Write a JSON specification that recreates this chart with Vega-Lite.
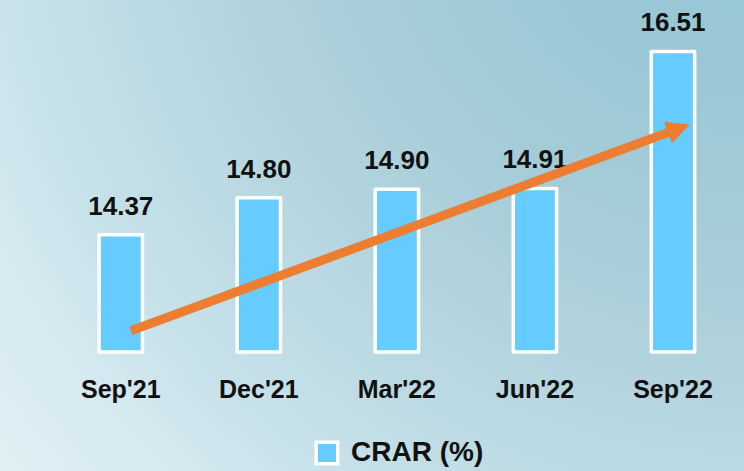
{
  "$schema": "https://vega.github.io/schema/vega-lite/v6.json",
  "width": 744,
  "height": 471,
  "autosize": {"type": "none"},
  "padding": 0,
  "background": "#C5E0E8",
  "view": {
    "stroke": null,
    "fill": {
      "gradient": "radial",
      "x1": 1, "y1": 0, "r1": 0,
      "x2": 1, "y2": 0, "r2": 1.414,
      "stops": [
        {"offset": 0, "color": "#8FC3D2"},
        {"offset": 0.354, "color": "#A5CCD8"},
        {"offset": 0.5, "color": "#B3D4DE"},
        {"offset": 0.707, "color": "#C8E2EA"},
        {"offset": 0.79, "color": "#D5E9F0"},
        {"offset": 1, "color": "#E8F4F8"}
      ]
    }
  },
  "datasets": {
    "bars": [
      {"month": "Sep'21", "value": 14.37},
      {"month": "Dec'21", "value": 14.80},
      {"month": "Mar'22", "value": 14.90},
      {"month": "Jun'22", "value": 14.91},
      {"month": "Sep'22", "value": 16.51}
    ],
    "arrow": [
      {"ix": 1.074, "v": 13.247},
      {"ix": 4.993, "v": 15.581}
    ],
    "head": [
      {"ix": 5.042, "v": 15.61}
    ]
  },
  "resolve": {"scale": {"x": "independent"}},
  "layer": [
    {
      "data": {"name": "bars"},
      "mark": {"type": "bar", "stroke": "white", "strokeWidth": 3.5, "strokeJoin": "round"},
      "encoding": {
        "x": {
          "field": "month", "type": "nominal", "sort": null,
          "scale": {"type": "band", "paddingInner": 0.686, "paddingOuter": 0.5377, "align": 0.6677},
          "axis": {
            "orient": "bottom", "offset": -119, "domain": false, "ticks": false, "tickSize": 0,
            "grid": false, "labelPadding": 45, "labelBaseline": "alphabetic", "labelAngle": 0,
            "labelFont": "Liberation Sans", "labelFontSize": 25, "labelFontWeight": "bold",
            "labelColor": "#111111", "title": null
          }
        },
        "y": {
          "field": "value", "type": "quantitative",
          "scale": {"domain": [11.61, 17.111], "nice": false, "zero": false},
          "axis": null
        },
        "y2": {"datum": 13},
        "color": {
          "datum": "CRAR (%)",
          "scale": {"range": ["#66CCFF"]},
          "legend": {
            "orient": "none", "legendX": 313, "legendY": 439, "padding": 0,
            "title": null, "symbolType": "square", "symbolSize": 462,
            "symbolStrokeColor": "white", "symbolStrokeWidth": 3.5,
            "labelFont": "Liberation Sans", "labelFontSize": 28, "labelFontWeight": "bold",
            "labelColor": "#111111", "labelOffset": 10
          }
        }
      }
    },
    {
      "data": {"name": "bars"},
      "mark": {"type": "text", "font": "Liberation Sans", "fontSize": 26, "fontWeight": "bold", "color": "#111111", "baseline": "alphabetic", "dy": -20},
      "encoding": {
        "x": {
          "field": "month", "type": "nominal", "sort": null,
          "scale": {"type": "band", "paddingInner": 0.686, "paddingOuter": 0.5377, "align": 0.6677},
          "axis": null
        },
        "y": {"field": "value", "type": "quantitative"},
        "text": {"field": "value", "type": "quantitative", "format": ".2f"}
      }
    },
    {
      "mark": {"type": "rule", "color": "white", "strokeWidth": 4},
      "encoding": {
        "x": {"datum": 0.5, "type": "quantitative", "scale": {"domain": [0.12495, 5.5144], "nice": false, "zero": false}, "axis": null},
        "x2": {"datum": 5.52},
        "y": {"datum": 13, "type": "quantitative"}
      }
    },
    {
      "data": {"name": "arrow"},
      "mark": {"type": "line", "color": "#ED7D31", "strokeWidth": 9, "strokeCap": "butt"},
      "encoding": {
        "x": {"field": "ix", "type": "quantitative", "scale": {"domain": [0.12495, 5.5144], "nice": false, "zero": false}, "axis": null},
        "y": {"field": "v", "type": "quantitative"}
      }
    },
    {
      "data": {"name": "head"},
      "mark": {"type": "point", "shape": "M-1,-1L1,0L-1,1Z", "filled": true, "size": 529, "angle": -20.3, "color": "#ED7D31", "opacity": 1, "strokeWidth": 0},
      "encoding": {
        "x": {"field": "ix", "type": "quantitative", "scale": {"domain": [0.12495, 5.5144], "nice": false, "zero": false}, "axis": null},
        "y": {"field": "v", "type": "quantitative"}
      }
    }
  ]
}
